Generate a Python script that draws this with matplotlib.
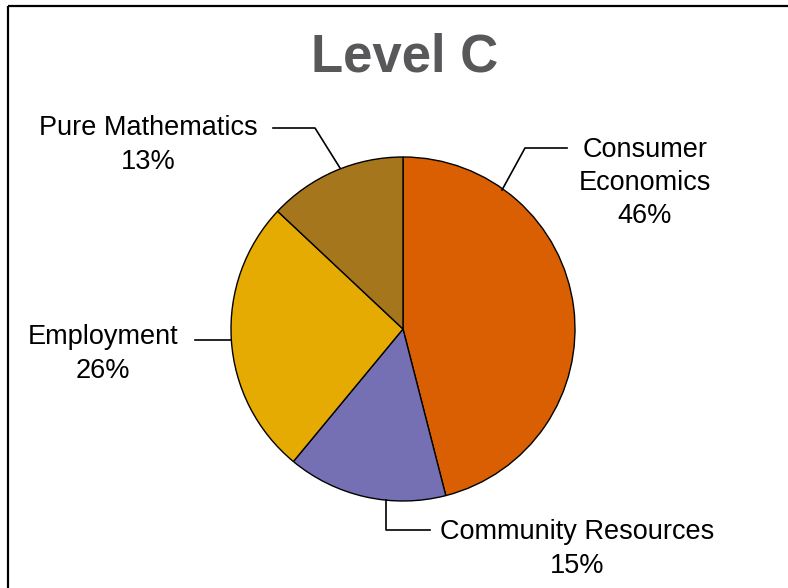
import matplotlib
matplotlib.use("Agg")
import matplotlib.pyplot as plt

categories = ["Consumer\nEconomics", "Community Resources", "Employment", "Pure Mathematics"]
values = [46, 15, 26, 13]
colors = ["#D95F02", "#7570B3", "#E6AB02", "#A6761D"]

W, H = 788, 588
fig = plt.figure(figsize=(W / 100, H / 100), dpi=100)
ax = fig.add_axes([0, 0, 1, 1])
ax.set_xlim(0, W)
ax.set_ylim(0, H)
ax.set_aspect("equal")
ax.axis("off")

def Y(y):
    return H - y

plt.rcParams["font.family"] = ["Liberation Sans", "DejaVu Sans"]

cx, cy, r = 403, 329, 172
ax.pie(values, colors=colors, startangle=90, counterclock=False,
       center=(cx, Y(cy)), radius=r, frame=True,
       wedgeprops=dict(edgecolor="black", linewidth=1.0))
ax.set_xlim(0, W)
ax.set_ylim(0, H)
ax.axis("off")

# frame
ax.plot([8, W], [Y(6), Y(6)], color="black", lw=1.6, solid_capstyle="butt")
ax.plot([8, 8], [Y(6), 0], color="black", lw=1.6, solid_capstyle="butt")

ax.text(405, Y(57), "Level C", ha="center", va="center", fontsize=38,
        fontweight="bold", color="#58585A", family=["Liberation Sans", "DejaVu Sans"])

fs = 19.5
lbl = dict(ha="center", va="center", fontsize=fs, color="black",
           family=["Liberation Sans", "DejaVu Sans"], linespacing=1.36)

# leader lines
lk = dict(color="black", lw=1.2)
ax.plot([502, 525, 567], [Y(190), Y(148), Y(148)], **lk)
ax.plot([386, 386, 430], [Y(500), Y(530), Y(530)], **lk)
ax.plot([195, 231], [Y(340), Y(340)], **lk)
ax.plot([273, 315, 340], [Y(128), Y(128), Y(168)], **lk)

ax.text(645, Y(183), f"{categories[0]}\n{values[0]}%", **lbl)
ax.text(577, Y(549), f"{categories[1]}\n{values[1]}%", **lbl)
ax.text(103, Y(354), f"{categories[2]}\n{values[2]}%", **lbl)
ax.text(148, Y(145), f"{categories[3]}\n{values[3]}%", **lbl)

fig.savefig("out.png", dpi=100)
